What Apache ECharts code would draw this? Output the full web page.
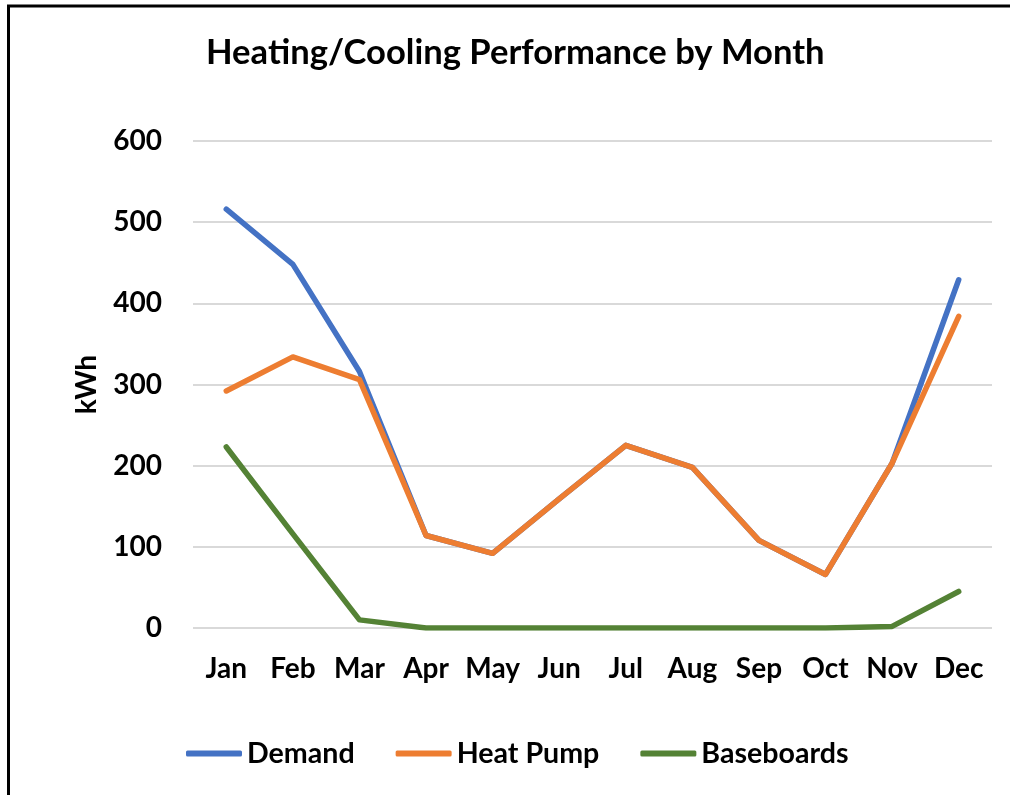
<!DOCTYPE html>
<html>
<head>
<meta charset="utf-8">
<script src="https://cdn.jsdelivr.net/npm/echarts@6/dist/echarts.min.js"></script>
<style>
html,body{margin:0;padding:0;background:#fff;}
#chart{width:1010px;height:795px;}
</style>
</head>
<body>
<div id="chart"></div>
<script>
const months = ['Jan','Feb','Mar','Apr','May','Jun','Jul','Aug','Sep','Oct','Nov','Dec'];
const demand = [516, 448, 316, 114, 92, 159, 225, 198, 108, 66, 203, 429];
const heatPump = [292, 334, 306, 114, 92, 159, 225, 198, 108, 66, 203, 384];
const baseboards = [223, 116, 10, 0, 0, 0, 0, 0, 0, 0, 2, 45];
const seriesNames = ['Demand', 'Heat Pump', 'Baseboards'];
const colors = ['#4472C4', '#ED7D31', '#548235'];
const titleText = 'Heating/Cooling Performance by Month';
const yAxisName = 'kWh';

const FONT = 'Lato';
const chart = echarts.init(document.getElementById('chart'), null, {renderer: 'canvas'});
const mkSeries = (name, data, color) => ({
  name, type: 'line', data, symbol: 'none', color,
  lineStyle: {width: 5.5, color, cap: 'round', join: 'round'},
  emphasis: {disabled: true}, animation: false
});
chart.setOption({
  animation: false,
  backgroundColor: '#fff',
  title: {
    text: titleText, left: 201, top: 30,
    textStyle: {fontFamily: FONT, fontWeight: 'bold', fontSize: 34.6, color: '#000'}
  },
  grid: {left: 193, right: 18, top: 141, bottom: 167, containLabel: false},
  legend: {
    data: seriesNames.map(n => ({name: n, icon: 'roundRect'})),
    left: 181, top: 734, itemWidth: 56, itemHeight: 6, itemGap: 41,
    textStyle: {fontFamily: FONT, fontWeight: 'bold', fontSize: 28.6, color: '#000'}
  },
  xAxis: {
    type: 'category', data: months, boundaryGap: true,
    axisLine: {show: false}, axisTick: {show: false},
    axisLabel: {fontFamily: FONT, fontWeight: 'bold', fontSize: 28, color: '#000', margin: 27, interval: 0}
  },
  yAxis: {
    type: 'value', min: 0, max: 600, interval: 100,
    name: yAxisName, nameLocation: 'middle', nameGap: 92, nameRotate: 90,
    nameTextStyle: {fontFamily: FONT, fontWeight: 'bold', fontSize: 28, color: '#000'},
    axisLine: {show: false}, axisTick: {show: false},
    axisLabel: {fontFamily: FONT, fontWeight: 'bold', fontSize: 28, color: '#000', margin: 31},
    splitLine: {lineStyle: {color: '#d9d9d9', width: 2}}
  },
  graphic: [{
    type: 'polyline', silent: true,
    shape: {points: [[8.5, 795], [8.5, 6], [1010, 6]]},
    style: {stroke: '#000', lineWidth: 3, fill: null}
  }],
  series: [
    mkSeries(seriesNames[0], demand, colors[0]),
    mkSeries(seriesNames[1], heatPump, colors[1]),
    mkSeries(seriesNames[2], baseboards, colors[2])
  ]
});
</script>
</body>
</html>
